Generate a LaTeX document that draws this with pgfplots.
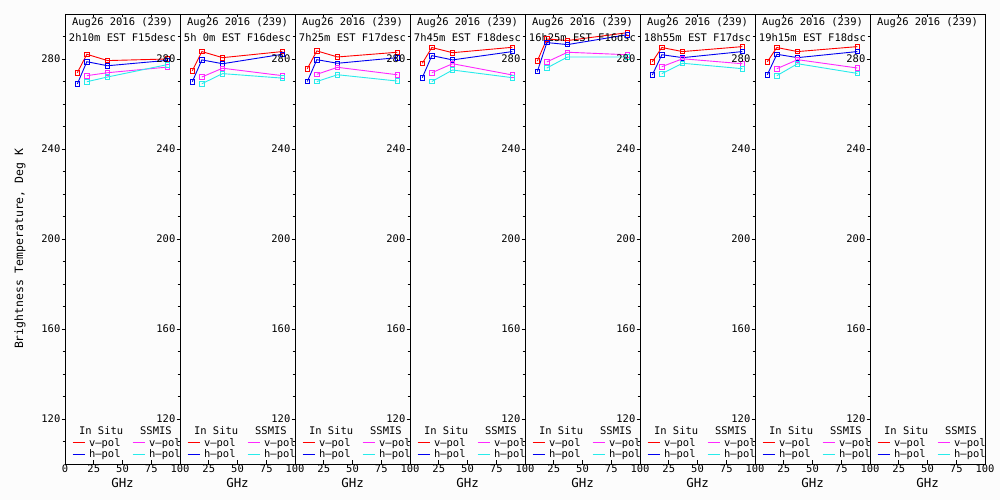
\documentclass[border=0pt]{standalone}
\usepackage{pgfplots}
\pgfplotsset{compat=1.18}
\usepackage{fontspec}
\setmainfont{DejaVu Sans Mono}
\definecolor{cred}{RGB}{255,0,0}
\definecolor{cblue}{RGB}{0,0,240}
\definecolor{cmag}{RGB}{255,40,255}
\definecolor{ccyan}{RGB}{40,235,235}
\definecolor{bg}{RGB}{252,252,252}
\newcommand{\tf}{\fontsize{10.5}{12}\selectfont}
\pgfplotsset{
  legend image code/.code={\draw[#1] (0bp,0bp) -- (12bp,0bp);},
  sser/.style={color=#1, mark=square, mark size=2.3bp, line width=0.9bp,
     mark options={solid, color=#1, line width=0.8bp, fill=none}, forget plot},
  panel/.style={
    scale only axis, width=115bp, height=450bp, anchor=south west,
    xmin=0, xmax=100, ymin=100, ymax=300,
    ytick={120,160,...,280}, minor ytick={110,120,...,290},
    ytick pos=left, ytick align=outside,
    xtick pos=both, xtick align=inside, xticklabel pos=lower,
    major tick length=3.5bp, minor tick length=2.5bp,
    axis line style={line width=0.8bp}, every tick/.style={black, line width=0.8bp},
    tick label style={font=\tf},
    /pgf/number format/assume math mode=true,
    yticklabel style={inner sep=1bp},
    xticklabel style={inner sep=1bp},
    xlabel={GHz}, xlabel style={font=\fontsize{12.5}{14}\selectfont, yshift=-1bp},
    clip=false,
    legend style={at={(axis description cs:0.06,0.008)}, anchor=south west, draw=none, fill=none, font=\tf,
      inner sep=0pt, row sep=0bp, nodes={inner sep=1bp},
      /tikz/every odd column/.append style={column sep=3bp},
      /tikz/every even column/.append style={column sep=8bp}},
    legend columns=2, legend cell align=left,
  },
}
\newcommand{\legendstuff}{%
  \addlegendimage{empty legend}\addlegendentry{\hspace{-10bp}In Situ}
  \addlegendimage{empty legend}\addlegendentry{\hspace{-9bp}SSMIS}
  \addlegendimage{cred, line width=1bp}\addlegendentry{v–pol}
  \addlegendimage{cmag, line width=1bp}\addlegendentry{v–pol}
  \addlegendimage{cblue, line width=1bp}\addlegendentry{h–pol}
  \addlegendimage{ccyan, line width=1bp}\addlegendentry{h–pol}
}
\newcommand{\titles}[1]{%
  \node[font=\tf, anchor=base] at ([yshift=-12bp]axis description cs:0.5,1) {Aug26 2016 (239)};
  \node[font=\tf, anchor=base] at ([yshift=-28bp]axis description cs:0.5,1) {#1};
}
\newcommand{\panel}[7]{%
\begin{axis}[panel, at={(#1,36bp)}, xtick={25,50,75,100}, #7]
  \addplot[sser=cred] coordinates {#3};
  \addplot[sser=cblue] coordinates {#4};
  \addplot[sser=cmag] coordinates {#5};
  \addplot[sser=ccyan] coordinates {#6};
  \titles{#2}
  \legendstuff
\end{axis}}
\begin{document}
\begin{tikzpicture}
\path[use as bounding box, fill=bg] (0bp,0bp) rectangle (1000bp,500bp);
\panel{65bp}{2h10m EST F15desc}
  {(10.7,273.9)(19,282.1)(37,279.3)(89,280.0)}
  {(10.7,268.9)(19,278.8)(37,277.0)(89,279.4)}
  {(19,272.6)(37,273.9)(89,276.4)}
  {(19,269.9)(37,272.0)(89,277.5)}
  {xtick={0,25,50,75,100}, ylabel={Brightness Temperature, Deg K},
   ylabel style={at={([xshift=-45bp]axis description cs:0,0.478)}, anchor=center, font=\fontsize{11.5}{13}\selectfont}}
\panel{180bp}{5h 0m EST F16desc}
  {(10.7,274.8)(19,283.3)(37,280.6)(89,283.3)}
  {(10.7,269.9)(19,279.6)(37,277.9)(89,282.1)}
  {(19,272.0)(37,275.9)(89,272.6)}
  {(19,269.0)(37,273.5)(89,271.5)}
  {}
\panel{295bp}{7h25m EST F17desc}
  {(10.7,275.7)(19,283.6)(37,280.9)(89,283.0)}
  {(10.7,270.0)(19,279.7)(37,278.1)(89,280.6)}
  {(19,273.2)(37,276.3)(89,273.0)}
  {(19,270.0)(37,273.0)(89,270.2)}
  {}
\panel{410bp}{7h45m EST F18desc}
  {(10.7,278.1)(19,285.1)(37,282.8)(89,285.2)}
  {(10.7,271.7)(19,281.5)(37,279.6)(89,283.3)}
  {(19,273.9)(37,277.9)(89,272.9)}
  {(19,270.0)(37,275.1)(89,271.7)}
  {}
\panel{525bp}{16h25m EST F16dsc}
  {(10.7,279.1)(19,288.9)(37,288.2)(89,291.7)}
  {(10.7,274.4)(19,287.3)(37,286.4)(89,290.8)}
  {(19,278.7)(37,283.0)(89,281.9)}
  {(19,276.0)(37,280.9)(89,280.9)}
  {}
\panel{640bp}{18h55m EST F17dsc}
  {(10.7,278.8)(19,285.1)(37,283.3)(89,285.5)}
  {(10.7,272.9)(19,281.9)(37,280.6)(89,283.3)}
  {(19,276.6)(37,280.1)(89,277.9)}
  {(19,273.5)(37,278.1)(89,275.7)}
  {}
\panel{755bp}{19h15m EST F18dsc}
  {(10.7,278.8)(19,285.1)(37,283.3)(89,285.5)}
  {(10.7,273.0)(19,282.1)(37,280.6)(89,283.3)}
  {(19,275.7)(37,279.7)(89,276.0)}
  {(19,272.6)(37,277.9)(89,273.6)}
  {}
\begin{axis}[panel, at={(870bp,36bp)}, xtick={25,50,75,100}]
  \node[font=\tf, anchor=base] at ([yshift=-12bp]axis description cs:0.5,1) {Aug26 2016 (239)};
  \legendstuff
\end{axis}
\end{tikzpicture}
\end{document}
